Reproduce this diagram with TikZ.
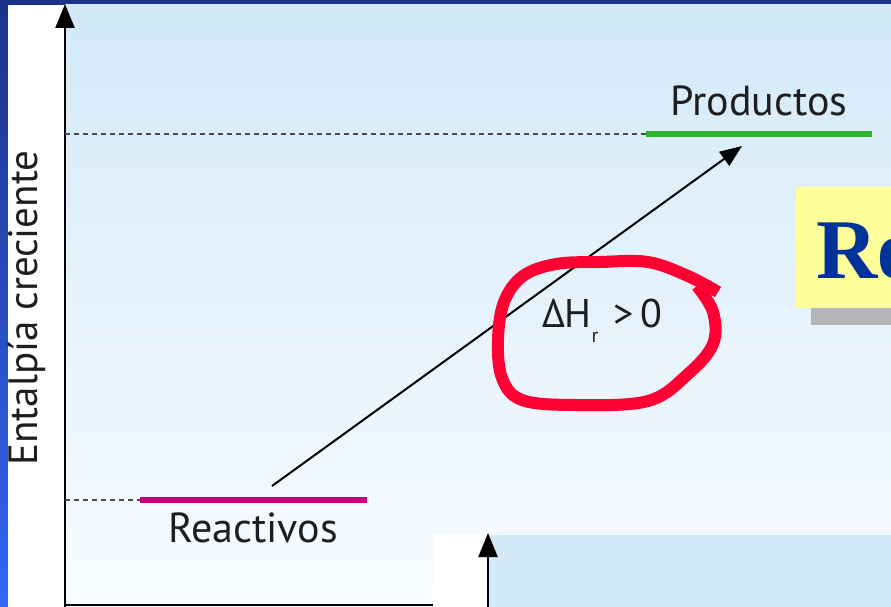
\documentclass[tikz,border=0pt]{standalone}
\usepackage{fontspec}
\setmainfont{PT Sans}
\newfontfamily\serifbold{Liberation Serif}
\usetikzlibrary{arrows.meta}
\definecolor{frametop}{HTML}{1B3288}
\definecolor{framebot}{HTML}{3366F5}
\definecolor{paneltop}{HTML}{D3E9F8}
\definecolor{panelbot}{HTML}{F9FCFF}
\definecolor{panelblue}{HTML}{D4EAF9}
\definecolor{prodgreen}{HTML}{2DB52D}
\definecolor{reacmag}{HTML}{C4007A}
\definecolor{loopred}{HTML}{FF0033}
\definecolor{boxyellow}{HTML}{FFFF99}
\definecolor{shadowgray}{HTML}{B4B6BA}
\definecolor{reblue}{HTML}{003399}
\definecolor{textgray}{HTML}{1E1E1E}
\tikzset{
  axisline/.style={line width=2.5pt, black},
  axisarrow/.style={line width=2.5pt, black, -{Triangle[length=24pt,width=19pt]}},
  guide/.style={line width=1.3pt, gray!60!black, dash pattern=on 5pt off 4pt},
  level/.style={line width=6pt},
  label/.style={text=textgray, font=\fontsize{42}{44}\selectfont, inner sep=0pt},
}
\begin{document}
\begin{tikzpicture}[x=1pt,y=-1pt]
\useasboundingbox (0,0) rectangle (891,607);
\clip (0,0) rectangle (891,607);
% frame and panels
\shade[top color=frametop, bottom color=framebot] (0,0) rectangle (891,607);
\fill[white] (8,5) rectangle (891,607);
\shade[top color=paneltop, bottom color=panelbot] (65,5) rectangle (891,607);
\fill[white] (433,534) rectangle (489,607);
\fill[panelblue] (489,535) rectangle (891,607);
% axes
\coordinate (ybot) at (65,607);
\coordinate (ytop) at (65,4);
\coordinate (xend) at (433,605);
\coordinate (xorig) at (64,605);
\draw[axisarrow] (ybot) -- (ytop);
\draw[axisline] (xorig) -- (xend);
\coordinate (y2bot) at (488,607);
\coordinate (y2top) at (488,533);
\draw[axisarrow] (y2bot) -- (y2top);
% levels
\coordinate (dp) at (65,134);
\coordinate (pl) at (646,134);
\coordinate (pr) at (872,134);
\coordinate (dr) at (65,500);
\coordinate (rl) at (140,500);
\coordinate (rr) at (367,500);
\draw[guide] (dp) -- (pl);
\draw[guide] (dr) -- (rl);
\draw[level, prodgreen] (pl) -- (pr);
\draw[level, reacmag] (rl) -- (rr);
% labels
\node[label] (prod) at (759,101) {Productos};
\node[label] (reac) at (253,528) {Reactivos};
\node[label, rotate=90, font=\fontsize{41}{44}\selectfont] (ent) at (27,308) {Entalpía creciente};
\node[label, font=\fontsize{40}{44}\selectfont] (dh) at (602,321) {ΔH\raisebox{-0.38em}{\fontsize{20}{22}\selectfont r}\hspace{0.2em}\,>\,0};
% reaction arrow
\coordinate (as) at (272,486);
\coordinate (ae) at (742,146);
\draw[line width=2pt, black, -{Triangle[length=22pt,width=17pt]}] (as) -- (ae);
% red hand-drawn loop
\draw[loopred, line width=12pt, line join=round] plot[smooth, tension=0.6] coordinates {
 (718,292) (688,276) (648,262) (600,262) (556,264) (523,276) (504,302) (498,340) (502,378) (522,400) (575,405) (648,401) (688,374) (713,344) (713,312) (697,286)};
% yellow title box
\fill[shadowgray] (811,205) rectangle (900,325);
\fill[boxyellow] (796,187) rectangle (900,308);
\node[anchor=base west, inner sep=0pt, text=reblue, font=\serifbold\bfseries\fontsize{85}{85}\selectfont] (re) at (816,278) {Re};
\end{tikzpicture}
\end{document}
